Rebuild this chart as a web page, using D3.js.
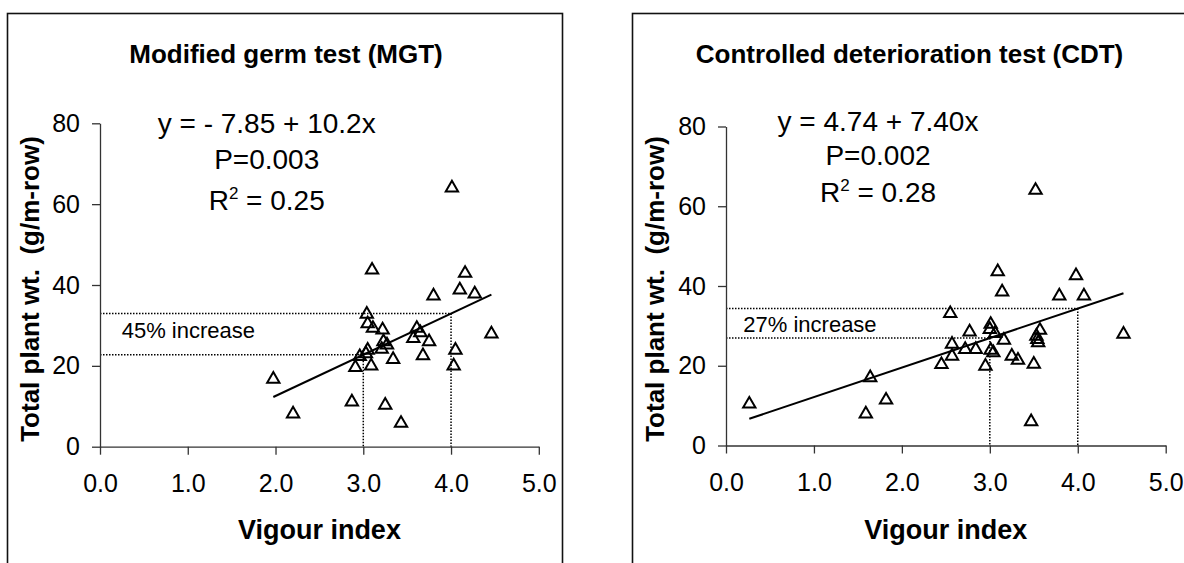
<!DOCTYPE html>
<html>
<head>
<meta charset="utf-8">
<script src="https://cdn.jsdelivr.net/npm/d3@7"></script>
<style>
  body { margin: 0; background: #fff; }
  svg { display: block; font-family: 'Liberation Sans', Arial, sans-serif; }
</style>
</head>
<body>
<svg id="chart" width="1184" height="563"></svg>
<script>
// axis ticks (same for both panels)
const xTicks = [0, 1, 2, 3, 4, 5];
const yTicks = [0, 20, 40, 60, 80];

// Modified germ test
const mgtVigour = [1.975, 2.20, 2.87, 2.91, 2.96, 3.04, 3.05, 3.11, 3.10, 3.05, 3.03, 3.09,
  3.22, 3.23, 3.27, 3.21, 3.25, 3.34, 3.43, 3.57, 3.61, 3.65, 3.75, 3.68, 3.80, 4.01,
  4.10, 4.16, 4.27, 4.05, 4.03, 4.46];
const mgtWeight = [16.7, 8.1, 11.1, 19.6, 22.3, 32.8, 30.4, 29.3, 43.7, 23.9, 23.0, 20.0,
  28.9, 26.0, 25.2, 24.1, 10.3, 21.6, 5.8, 26.8, 29.3, 28.2, 26.0, 22.5, 37.3, 64.0,
  38.8, 42.9, 37.8, 23.9, 20.0, 27.9];
const mgtFit = [-7.85, 10.2];

// Controlled deterioration test
const cdtVigour = [0.265, 1.59, 1.64, 1.82, 2.45, 2.57, 2.57, 2.55, 2.72, 2.77, 2.84, 2.95,
  3.01, 3.00, 3.06, 3.01, 3.04, 3.09, 3.14, 3.16, 3.25, 3.32, 3.50, 3.47, 3.52, 3.54,
  3.55, 3.53, 3.57, 3.79, 3.98, 4.07, 4.52];
const cdtWeight = [10.4, 7.9, 17.0, 11.4, 20.3, 25.4, 22.4, 33.1, 24.1, 28.5, 24.1, 19.9,
  30.4, 29.1, 28.1, 23.9, 23.3, 43.6, 38.5, 26.4, 22.4, 21.4, 20.4, 6.0, 64.0, 26.6,
  25.8, 27.4, 28.9, 37.5, 42.6, 37.5, 27.9];
const cdtFit = [4.74, 7.40];

// vigour values compared by the dotted guides
const comparePoints = [3, 4];

const panels = [
  {
    title: 'Modified germ test (MGT)',
    vigour: mgtVigour, weight: mgtWeight, fit: mgtFit,
    lines: ['y = - 7.85 + 10.2x', 'P=0.003', '0.25'],
    increase: '45% increase',
    frameX: 7.5, titleX: 286,
    plot: { left: 100, right: 538.8, top: 123.3, bottom: 446.7 },
    textX: 266.7, textY: [133, 169, 210],
    incPos: [121.7, 338.3],
  },
  {
    title: 'Controlled deterioration test (CDT)',
    vigour: cdtVigour, weight: cdtWeight, fit: cdtFit,
    lines: ['y = 4.74 + 7.40x', 'P=0.002', '0.28'],
    increase: '27% increase',
    frameX: 632.5, titleX: 909.5,
    plot: { left: 726, right: 1165.7, top: 126.5, bottom: 445.5 },
    textX: 878, textY: [131, 165, 202],
    incPos: [743.3, 331.7],
  },
];

const svg = d3.select('#chart');

function drawPanel(p) {
  const g = svg.append('g');
  const frameW = 555;

  // panel frame (bottom and far right run off the page)
  g.append('rect')
    .attr('x', p.frameX)
    .attr('y', 13.5)
    .attr('width', frameW)
    .attr('height', 600)
    .attr('fill', 'none')
    .attr('stroke', '#111')
    .attr('stroke-width', 1.6);

  const x = d3.scaleLinear().domain([0, 5]).range([p.plot.left, p.plot.right]);
  const y = d3.scaleLinear().domain([0, 80]).range([p.plot.bottom, p.plot.top]);
  const predict = (v) => p.fit[0] + p.fit[1] * v;

  // dotted guides at vigour 3 and 4
  comparePoints.forEach((v) => {
    g.append('line')
      .attr('x1', x(0)).attr('x2', x(v))
      .attr('y1', y(predict(v))).attr('y2', y(predict(v)))
      .attr('stroke', '#000').attr('stroke-width', 1.5)
      .attr('stroke-dasharray', '1.5,1.5');
    g.append('line')
      .attr('x1', x(v)).attr('x2', x(v))
      .attr('y1', y(predict(v))).attr('y2', y(0))
      .attr('stroke', '#000').attr('stroke-width', 1.5)
      .attr('stroke-dasharray', '1.5,1.5');
  });

  // regression line over the range of the data
  const ext = d3.extent(p.vigour);
  g.append('line')
    .attr('x1', x(ext[0])).attr('y1', y(predict(ext[0])))
    .attr('x2', x(ext[1])).attr('y2', y(predict(ext[1])))
    .attr('stroke', '#000')
    .attr('stroke-width', 2);

  // points
  const pts = p.vigour.map((v, i) => ({ v, w: p.weight[i] }));
  g.selectAll('path.pt')
    .data(pts)
    .enter().append('path')
    .attr('class', 'pt')
    .attr('d', d3.symbol(d3.symbolTriangle, 66))
    .attr('transform', (d) => `translate(${x(d.v)},${y(d.w)})`)
    .attr('fill', 'none')
    .attr('stroke', '#000')
    .attr('stroke-width', 2);

  // axes
  const xAxis = g.append('g')
    .attr('transform', `translate(0,${p.plot.bottom})`)
    .call(d3.axisBottom(x).tickValues(xTicks).tickFormat(d3.format('.1f'))
      .tickSize(8).tickSizeOuter(0).tickPadding(20));
  const yAxis = g.append('g')
    .attr('transform', `translate(${p.plot.left},0)`)
    .call(d3.axisLeft(y).tickValues(yTicks).tickFormat(d3.format('d'))
      .tickSize(8).tickSizeOuter(0).tickPadding(12));
  [xAxis, yAxis].forEach((ax) => {
    ax.attr('font-family', null).attr('font-size', null);
    ax.select('.domain').attr('stroke', '#333').attr('stroke-width', 1.3);
    ax.selectAll('.tick line').attr('stroke', '#333').attr('stroke-width', 1.3);
    ax.selectAll('.tick text').attr('fill', '#000').style('font-size', '25px');
  });

  // titles
  g.append('text')
    .attr('x', p.titleX).attr('y', 63)
    .attr('text-anchor', 'middle')
    .style('font-size', '26px').style('font-weight', 'bold')
    .text(p.title);

  g.append('text')
    .attr('x', (p.plot.left + p.plot.right) / 2).attr('y', 539)
    .attr('text-anchor', 'middle')
    .style('font-size', '27px').style('font-weight', 'bold')
    .text('Vigour index');

  const labelX = p.frameX + 31;
  g.append('text')
    .attr('transform', `translate(${labelX},289) rotate(-90)`)
    .attr('text-anchor', 'middle')
    .style('font-size', '26px').style('font-weight', 'bold')
    .attr('xml:space', 'preserve')
    .text('Total plant wt.  (g/m-row)');

  // regression text
  g.append('text')
    .attr('x', p.textX).attr('y', p.textY[0])
    .attr('text-anchor', 'middle').style('font-size', '28px')
    .text(p.lines[0]);
  g.append('text')
    .attr('x', p.textX).attr('y', p.textY[1])
    .attr('text-anchor', 'middle').style('font-size', '28px')
    .text(p.lines[1]);
  const r2 = g.append('text')
    .attr('x', p.textX).attr('y', p.textY[2])
    .attr('text-anchor', 'middle').style('font-size', '28px');
  r2.append('tspan').text('R');
  r2.append('tspan').attr('dy', -11).style('font-size', '17px').text('2');
  r2.append('tspan').attr('dy', 11).text(` = ${p.lines[2]}`);

  g.append('text')
    .attr('x', p.incPos[0]).attr('y', p.incPos[1])
    .style('font-size', '22px')
    .text(p.increase);
}

panels.forEach(drawPanel);
</script>
</body>
</html>
